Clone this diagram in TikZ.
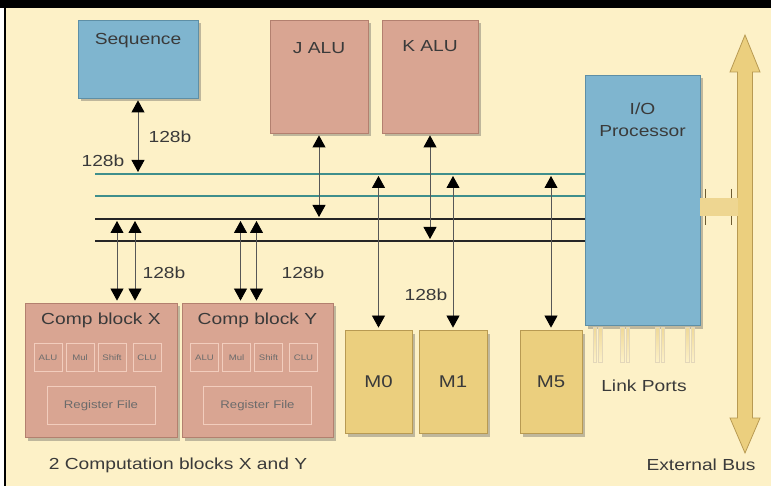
\documentclass[tikz,border=0pt]{standalone}
\usepackage{fontspec}
\setmainfont{Liberation Sans}[FakeStretch=1.2]
\usetikzlibrary{arrows.meta,calc,shadows}
\definecolor{PaperClr}{HTML}{FDF1C7}
\definecolor{BlueClr}{HTML}{7FB5CF}
\definecolor{BlueEdge}{HTML}{5E8FA6}
\definecolor{PinkClr}{HTML}{D9A592}
\definecolor{PinkEdge}{HTML}{B3806F}
\definecolor{PinkLine}{HTML}{F2CDBD}
\definecolor{GoldClr}{HTML}{EBCF7E}
\definecolor{GoldEdge}{HTML}{B89A52}
\definecolor{TealClr}{HTML}{3F8F8C}
\definecolor{InkClr}{HTML}{3A3A3A}
\newcommand\fsz[1]{\fontsize{#1}{#1}\selectfont}

\begin{document}
\begin{tikzpicture}[x=1pt,y=-1pt,
  unit/.style={draw=#1Edge,fill=#1Clr,line width=.8pt,inner sep=0pt,
    drop shadow={shadow xshift=2.5pt,shadow yshift=-3.5pt,opacity=.35,fill=black!70}},
  title/.style={anchor=north,font=\fsz{16},text=InkClr},
  part/.style={draw=PinkLine,line width=.8pt,minimum width=28pt,minimum height=28pt,
    inner sep=0pt,font=\fsz{8},text=InkClr!75},
  link/.style={InkClr!85,line width=.8pt,shorten <=2pt,shorten >=2pt,
    {Triangle[width=13pt,length=12pt,black]}-{Triangle[width=13pt,length=12pt,black]}},
  bus/.style={line width=2pt},
  word/.style={font=\fsz{16},text=InkClr}]

\useasboundingbox (0,0) rectangle (771,486);
\fill[black] (0,0) rectangle (771,486);
\fill[white] (0,8) rectangle (4,486);
\fill[PaperClr] (6,8) rectangle (771,486);

\node[unit=Blue,minimum width=120pt,minimum height=78pt,label={[title,yshift=-10pt]north:Sequence}] (seq) at (138,59) {};
\node[unit=Pink,minimum width=98pt,minimum height=113pt,label={[title,yshift=-19pt]north:J ALU}] (jalu) at (319,76.5) {};
\node[unit=Pink,minimum width=96pt,minimum height=113pt,label={[title,yshift=-17pt]north:K ALU}] (kalu) at (430,76.5) {};
\node[unit=Blue,minimum width=115pt,minimum height=250pt,label={[title,align=center,yshift=-25pt,font=\fontsize{16}{22}\selectfont]north:I/O\\Processor}] (io) at (642.5,200) {};

\node[unit=Gold,minimum width=67pt,minimum height=103pt,font=\fsz{17},text=InkClr] (m0) at (378.5,381.5) {M0};
\node[unit=Gold,minimum width=68pt,minimum height=103pt,font=\fsz{17},text=InkClr] (m1) at (453,381.5) {M1};
\node[unit=Gold,minimum width=62pt,minimum height=103pt,font=\fsz{17},text=InkClr] (m5) at (551,381.5) {M5};

\node[unit=Pink,minimum width=152pt,minimum height=134pt,label={[title,yshift=-7pt]north:Comp block X}] (cbx) at (101,370) {};
\node[unit=Pink,minimum width=151pt,minimum height=134pt,label={[title,yshift=-7pt]north:Comp block Y}] (cby) at (257.5,370) {};
\foreach \blk in {cbx,cby}{
  \foreach \nm/\dx in {ALU/-53,Mul/-21,Shift/11,CLU/46}
    \node[part] (\blk-\nm) at ($(\blk.north)+(\dx,55)$) {\nm};
  \node[part,minimum width=108pt,minimum height=38pt,font=\fsz{11}] (\blk-reg) at ($(\blk.north)+(0,103)$) {Register File};
}

\coordinate (b1) at (95,174);
\coordinate (b2) at (95,196);
\coordinate (b3) at (95,219);
\coordinate (b4) at (95,241);
\draw[bus,TealClr] (b1) -- (b1 -| io.west);
\draw[bus,TealClr] (b2) -- (b2 -| io.west);
\draw[bus,black!85] (b3) -- (b3 -| io.west);
\draw[bus,black!85] (b4) -- (b4 -| io.west);

\draw[link] (seq.south) -- (seq.south |- b1);
\draw[link] (jalu.south) -- (jalu.south |- b3);
\draw[link] (kalu.south) -- (kalu.south |- b4);
\draw[link] (m0.north |- b1) -- (m0.north);
\draw[link] (m1.north |- b1) -- (m1.north);
\draw[link] (m5.north |- b1) -- (m5.north);

\coordinate (xa) at ($(cbx.north)+(16,0)$);
\coordinate (xb) at ($(cbx.north)+(34,0)$);
\coordinate (ya) at ($(cby.north)+(-17,0)$);
\coordinate (yb) at ($(cby.north)+(-1,0)$);
\foreach \pt in {xa,xb,ya,yb}
  \draw[link] (\pt |- b3) -- (\pt);

\node[word] (w1) at (170,137) {128b};
\node[word] (w2) at (103,161) {128b};
\node[word] (w3) at (164,273) {128b};
\node[word] (w4) at (303,273) {128b};
\node[word] (w5) at (426,295) {128b};

\coordinate (bt) at (745,35);
\coordinate (bb) at (745,453);
\draw[draw=GoldEdge,fill=GoldClr,line width=.8pt] (bt) -- ++(15,37) -- ++(-7.5,0) -- ($(bb)+(7.5,-35)$) -- ++(7.5,0)
  -- (bb) -- ++(-15,-35) -- ++(7.5,0) -- ($(bt)+(-7.5,37)$) -- ++(-7.5,0) -- cycle;

\fill[GoldClr!85] (io.east |- 0,198) rectangle (737.5,216);
\draw[GoldEdge!60!black,line width=.8pt] (705,189) -- (705,198) (705,216) -- (705,225)
  (731,189) -- (731,198) (731,216) -- (731,225);

\foreach \px in {597.5,625,660,690}{
  \shade[top color=GoldClr!80,bottom color=PaperClr,draw=GoldEdge!40] (\px-4.5,327) rectangle (\px-1,362);
  \shade[top color=GoldClr!80,bottom color=PaperClr,draw=GoldEdge!40] (\px+1,327) rectangle (\px+4.5,362);
}

\node[word] (lp) at (644,386) {Link Ports};
\node[word] (cap) at (178,465) {2 Computation blocks X and Y};
\node[word] (eb) at (701,465) {External Bus};

\end{tikzpicture}
\end{document}
